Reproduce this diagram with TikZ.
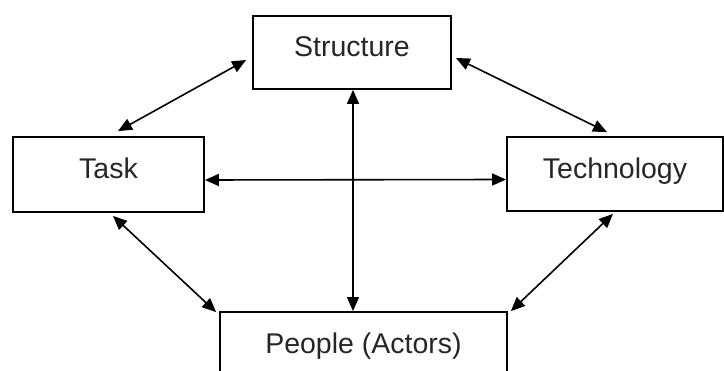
\documentclass[tikz,border=0pt]{standalone}
\usepackage{fontspec}
\setmainfont{Liberation Sans}
\usetikzlibrary{arrows.meta}

\begin{document}
\begin{tikzpicture}[x=1pt,y=-1pt,
  box/.style={draw,line width=1.8pt,text=black!85,font=\fontsize{28.5}{34}\selectfont,
    text height=20pt,text depth=11pt,inner sep=0pt},
  arr/.style={line width=1.6pt,{Triangle[length=14pt,width=12pt]}-{Triangle[length=14pt,width=12pt]}}]
  \useasboundingbox (0,0) rectangle (724,371);
  \clip (0,0) rectangle (724,371);
  \node[box,minimum width=198pt,minimum height=73pt] (structure) at (352,52.5) {Structure};
  \node[box,minimum width=191pt,minimum height=75pt] (task) at (108.5,174.5) {Task};
  \node[box,minimum width=216pt,minimum height=74pt] (technology) at (615,174) {Technology};
  \node[box,minimum width=287pt,minimum height=75pt] (people) at (363.5,349.5) {People (Actors)};
  \draw[arr] ([xshift=-6pt,yshift=-7.5pt]structure.west) -- ([xshift=9.5pt,yshift=5pt]task.north);
  \draw[arr] ([xshift=4pt,yshift=-5.5pt]structure.east) -- ([xshift=-8pt,yshift=4pt]technology.north);
  \draw[arr] ([xshift=4.5pt,yshift=-3pt]task.south) -- ([xshift=-3pt,yshift=-1pt]people.north west);
  \draw[arr] ([xshift=-2pt,yshift=-2pt]technology.south) -- ([xshift=3pt]people.north east);
  \draw[arr] ([yshift=-5.5pt]task.east) -- ([yshift=-5.5pt]technology.west);
  \draw[arr] ([xshift=1pt]structure.south) -- ([xshift=1pt]structure.south |- people.north);
\end{tikzpicture}
\end{document}
